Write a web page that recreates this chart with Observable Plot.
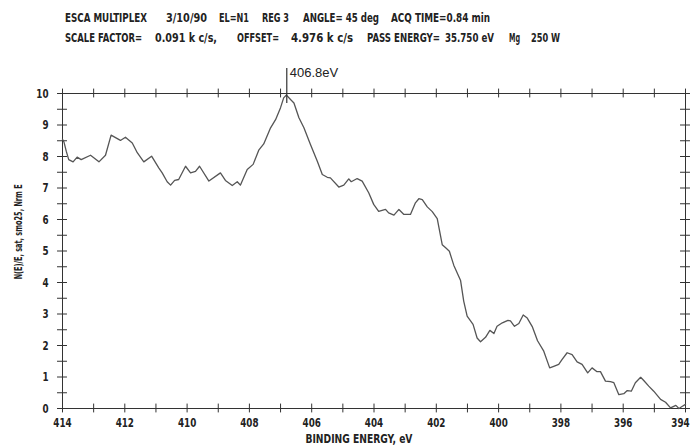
<!DOCTYPE html>
<html>
<head>
<meta charset="utf-8">
<script src="https://cdn.jsdelivr.net/npm/d3@7"></script>
<script src="https://cdn.jsdelivr.net/npm/@observablehq/plot@0.6"></script>
<style>
  body { margin: 0; background: white; }
  #header text { font-family: "Liberation Sans Narrow", "DejaVu Sans Condensed", sans-serif; font-weight: bold; font-size: 12.5px; fill: #222; }
</style>
</head>
<body>
<svg id="header" width="691" height="55"></svg>
<div id="chart"></div>
<script>
// Header fields: [text, left x, right x, baseline y]
const headerFields = [
  ["ESCA MULTIPLEX", 65, 147, 22],
  ["3/10/90", 166, 207, 22],
  ["EL=N1", 219, 249, 22],
  ["REG 3", 262, 289, 22],
  ["ANGLE= 45 deg", 303, 379, 22],
  ["ACQ TIME=0.84 min", 391, 490, 22],
  ["SCALE FACTOR=", 65, 142, 42],
  ["0.091 k c/s,", 155, 217, 42],
  ["OFFSET=", 237, 279, 42],
  ["4.976 k c/s", 291, 353, 42],
  ["PASS ENERGY=", 367, 440, 42],
  ["35.750 eV", 445, 494, 42],
  ["Mg", 509, 520, 42],
  ["250 W", 531, 560, 42]
];

// Spectrum: binding energy (eV) and normalized intensity
const energy = [414.0, 413.95, 413.88, 413.80, 413.66, 413.53, 413.40, 413.10, 412.83, 412.62,
  412.44, 412.14, 411.98, 411.76, 411.60, 411.39, 411.14, 410.91, 410.80, 410.64,
  410.53, 410.40, 410.27, 410.05, 409.89, 409.73, 409.60, 409.30, 408.93, 408.77,
  408.55, 408.39, 408.29, 408.07, 407.88, 407.70, 407.54, 407.32, 407.16, 407.00,
  406.90, 406.81, 406.68, 406.57, 406.41, 406.25, 406.04, 405.82, 405.66, 405.50,
  405.40, 405.13, 404.97, 404.81, 404.73, 404.54, 404.38, 404.17, 404.01, 403.85,
  403.63, 403.53, 403.36, 403.20, 403.04, 402.83, 402.67, 402.56, 402.45, 402.29,
  402.13, 401.97, 401.81, 401.70, 401.58, 401.44, 401.22, 401.12, 401.01, 400.82,
  400.69, 400.58, 400.42, 400.28, 400.15, 400.05, 399.88, 399.70, 399.62, 399.49,
  399.35, 399.21, 399.08, 398.92, 398.75, 398.55, 398.36, 398.23, 398.07, 397.96,
  397.80, 397.64, 397.48, 397.32, 397.14, 397.00, 396.84, 396.73, 396.57, 396.41,
  396.30, 396.14, 395.98, 395.87, 395.74, 395.61, 395.44, 395.34, 395.18, 395.02,
  394.80, 394.64, 394.48, 394.31, 394.21, 394.10, 394.00];
const intensity = [8.55, 8.45, 8.17, 7.90, 7.83, 7.98, 7.90, 8.04, 7.83, 8.04,
  8.68, 8.51, 8.61, 8.43, 8.12, 7.83, 8.01, 7.64, 7.48, 7.20,
  7.09, 7.24, 7.27, 7.69, 7.48, 7.53, 7.69, 7.22, 7.48, 7.24,
  7.08, 7.20, 7.09, 7.59, 7.75, 8.20, 8.40, 8.91, 9.17, 9.55,
  9.86, 9.95, 9.81, 9.70, 9.23, 8.91, 8.38, 7.85, 7.43, 7.34,
  7.32, 7.03, 7.09, 7.29, 7.20, 7.30, 7.22, 6.85, 6.48, 6.26,
  6.32, 6.21, 6.14, 6.32, 6.16, 6.16, 6.53, 6.66, 6.63, 6.40,
  6.25, 6.03, 5.20, 5.10, 4.99, 4.55, 4.06, 3.41, 2.93, 2.67,
  2.24, 2.12, 2.26, 2.48, 2.38, 2.61, 2.72, 2.80, 2.78, 2.61,
  2.70, 2.97, 2.87, 2.60, 2.15, 1.82, 1.29, 1.34, 1.40, 1.56,
  1.77, 1.71, 1.48, 1.40, 1.13, 1.29, 1.17, 1.17, 0.87, 0.85,
  0.82, 0.44, 0.47, 0.57, 0.55, 0.82, 0.99, 0.89, 0.71, 0.55,
  0.29, 0.20, 0.02, 0.10, 0.00, 0.07, 0.13];

const xTickLabels = [414, 412, 410, 408, 406, 404, 402, 400, 398, 396, 394];
const xMinorTicks = [414, 413, 412, 411, 410, 409, 408, 407, 406, 405, 404, 403, 402, 401, 400, 399, 398, 397, 396, 395, 394];
const yTickLabels = [0, 1, 2, 3, 4, 5, 6, 7, 8, 9, 10];
const yMinorTicks = [0, 0.5, 1, 1.5, 2, 2.5, 3, 3.5, 4, 4.5, 5, 5.5, 6, 6.5, 7, 7.5, 8, 8.5, 9, 9.5, 10];
const peakEnergy = 406.8;
const peakLabel = "406.8eV";
const xLabel = "BINDING ENERGY, eV";
const yLabel = "N(E)/E, sat, smo25, Nrm E";

// Header
const hdr = d3.select("#header");
hdr.selectAll("text").data(headerFields).join("text")
  .attr("x", d => d[1]).attr("y", d => d[3])
  .attr("textLength", d => d[2] - d[1])
  .attr("lengthAdjust", "spacingAndGlyphs")
  .text(d => d[0]);

const spectrum = energy.map((e, i) => ({energy: e, value: intensity[i]}));
const ink = "#333";
const narrow = "'Liberation Sans Narrow', 'DejaVu Sans Condensed', sans-serif";

const chart = Plot.plot({
  width: 691,
  height: 392,
  marginTop: 34,
  marginBottom: 43,
  marginLeft: 62,
  marginRight: 6,
  x: {domain: [414, 394]},
  y: {domain: [0, 10]},
  style: {fontFamily: narrow, fontSize: "12.5px", fontWeight: "bold", color: "#222", background: "white", overflow: "visible"},
  marks: [
    Plot.frame({stroke: ink, strokeWidth: 1}),
    Plot.ruleX(xMinorTicks, {x: d => d, y1: -0.14, y2: 0.14, stroke: ink}),
    Plot.ruleX(xMinorTicks, {x: d => d, y1: 9.86, y2: 10.14, stroke: ink}),
    Plot.ruleY(yMinorTicks, {y: d => d, x1: 414.16, x2: 413.84, stroke: ink}),
    Plot.ruleY(yMinorTicks, {y: d => d, x1: 394.16, x2: 393.84, stroke: ink}),
    Plot.axisX({ticks: xTickLabels, tickSize: 0, tickPadding: 10, label: null}),
    Plot.axisY({ticks: yTickLabels, tickSize: 0, tickPadding: 14, label: null}),
    Plot.line(spectrum, {x: "energy", y: "value", stroke: "#555", strokeWidth: 1.3}),
    Plot.ruleX([peakEnergy], {y1: 9.68, y2: 10.79, stroke: ink, strokeWidth: 1.2}),
    Plot.text([peakLabel], {x: peakEnergy, y: 10.67, dx: 3, text: d => d, textAnchor: "start",
      fontFamily: "'Liberation Sans', Arial, sans-serif", fontWeight: "normal", fontSize: 13, fill: "#222"}),
    Plot.text([xLabel], {x: 406.2, frameAnchor: "bottom", dy: 34, text: d => d, textAnchor: "start", fontSize: 12}),
    Plot.text([yLabel], {y: 4.1, frameAnchor: "left", dx: -44, rotate: -90, text: d => d, textAnchor: "start", fontSize: 11})
  ]
});
document.getElementById("chart").appendChild(chart);

// Condense texts to the narrow look of the original printout
const svg = d3.select(chart);
svg.selectAll("text").each(function() {
  const t = this.textContent.trim();
  const sel = d3.select(this);
  if (/^\d+$/.test(t)) {
    sel.attr("textLength", 6.1 * t.length).attr("lengthAdjust", "spacingAndGlyphs");
    if (t === "394") sel.attr("dx", -5);
  } else if (t.indexOf("BINDING") >= 0) {
    sel.attr("textLength", 107).attr("lengthAdjust", "spacingAndGlyphs");
  } else if (t.indexOf("smo25") >= 0) {
    sel.attr("textLength", 95).attr("lengthAdjust", "spacingAndGlyphs");
  }
});
</script>
</body>
</html>
